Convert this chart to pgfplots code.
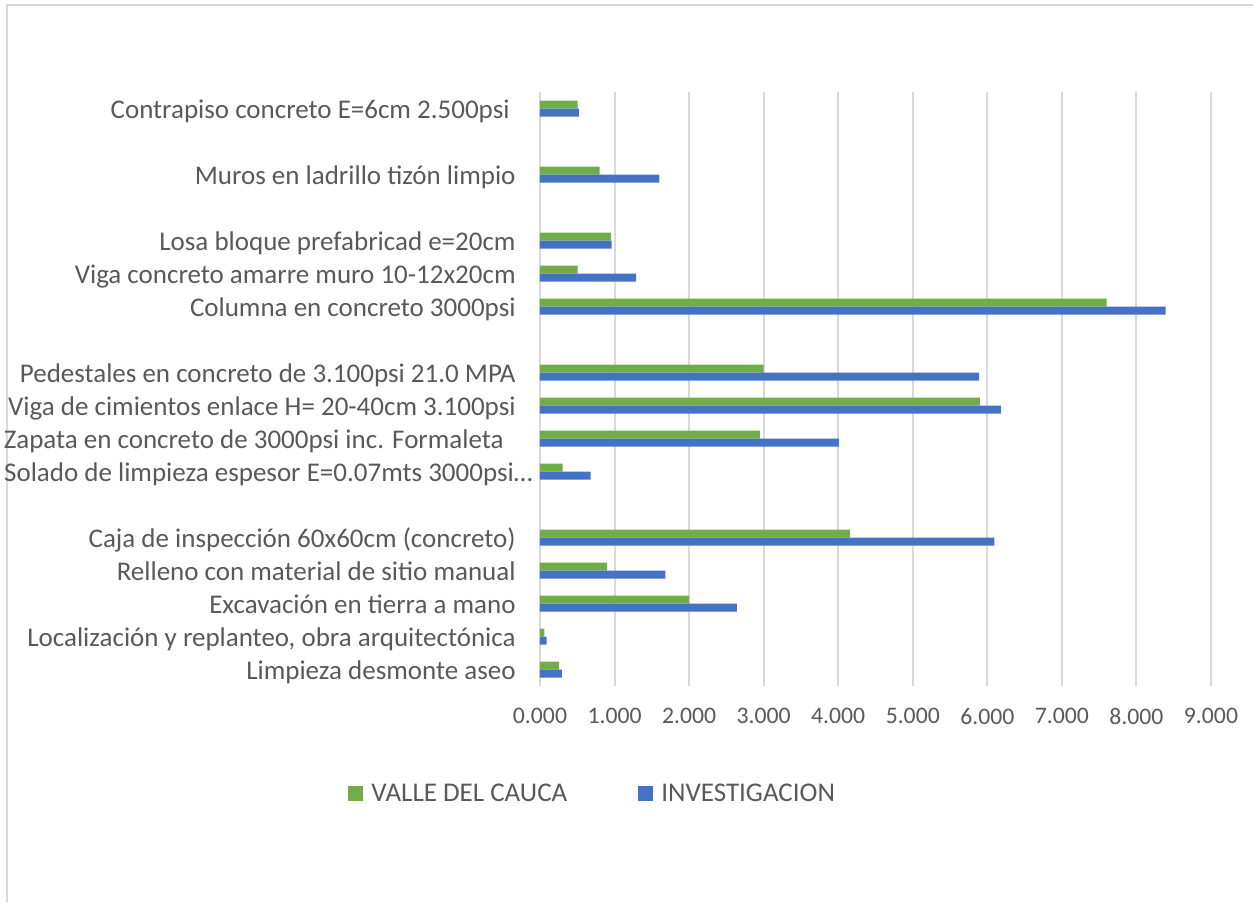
\documentclass[border=0pt]{standalone}
\usepackage{pgfplots}
\pgfplotsset{compat=1.18}
\usepackage{fontspec}
\setmainfont{Carlito}
\definecolor{cgreen}{HTML}{70AD47}
\definecolor{cblue}{HTML}{4472C4}
\definecolor{ctext}{HTML}{595959}
\definecolor{cgrid}{HTML}{D9D9D9}
\begin{document}
\begin{tikzpicture}
\path[use as bounding box] (0,0) rectangle (626.5pt,451pt);
\draw[cgrid, line width=1pt] (3.5pt,0) -- (3.5pt,448.5pt) -- (626.5pt,448.5pt);
\begin{axis}[
  at={(270pt,108pt)}, anchor=south west,
  scale only axis, width=335.5pt, height=297pt,
  xbar, bar width=4pt,
  xmin=0, xmax=9000, ymin=-0.5, ymax=17.5,
  axis line style={draw=none},
  major tick length=0pt,
  xmajorgrids, major grid style={color=cgrid, line width=1pt},
  xtick={0,1000,...,9000},
  xticklabels={0.000,1.000,2.000,3.000,4.000,5.000,6.000,7.000,8.000,9.000},
  xticklabel style={font=\fontsize{11.85}{14}\selectfont, text=ctext, anchor=north, inner sep=0pt, yshift=-11pt},
  ytick={0,1,2,3,4,6,7,8,9,11,12,13,15,17},
  yticklabels={
    Limpieza desmonte aseo,
    {Localización y replanteo, obra arquitectónica},
    Excavación en tierra a mano,
    Relleno con material de sitio manual,
    Caja de inspección 60x60cm (concreto),
    {Solado de limpieza espesor E=0.07mts 3000psi…\hspace*{-8.5pt}},
    {Zapata en concreto de 3000psi inc. Formaleta\hspace*{6pt}},
    Viga de cimientos enlace H= 20-40cm 3.100psi,
    Pedestales en concreto de 3.100psi 21.0 MPA,
    Columna en concreto 3000psi,
    Viga concreto amarre muro 10-12x20cm,
    Losa bloque prefabricad e=20cm,
    Muros en ladrillo tizón limpio,
    {Contrapiso concreto E=6cm 2.500psi\hspace*{3pt}}},
  yticklabel style={font=\fontsize{13.5}{16}\selectfont, text=ctext, anchor=base east, inner sep=0pt, xshift=-12pt, yshift=-4.8pt},
  legend columns=2,
  legend style={at={(-0.286,-0.1818)}, anchor=west, draw=none, fill=none, inner sep=0pt,
    nodes={inner sep=0pt},
    font=\fontsize{13.5}{16}\selectfont, text=ctext,
    /tikz/every odd column/.append style={column sep=4pt},
    /tikz/every even column/.append style={column sep=35.5pt}},
  legend image code/.code={\fill[#1] (0pt,-3.75pt) rectangle (7.5pt,3.75pt);},
]
\addplot[fill=cgreen, draw=none, bar shift=2pt] coordinates {
  (255,0) (60,1) (2000,2) (900,3) (4160,4) (305,6) (2950,7) (5900,8) (3000,9)
  (7600,11) (505,12) (950,13) (800,15) (505,17)};
\addlegendentry{VALLE DEL CAUCA}
\addplot[fill=cblue, draw=none, bar shift=-2pt] coordinates {
  (295,0) (90,1) (2640,2) (1680,3) (6095,4) (680,6) (4010,7) (6180,8) (5890,9)
  (8390,11) (1290,12) (960,13) (1600,15) (520,17)};
\addlegendentry{INVESTIGACION}
\end{axis}
\end{tikzpicture}
\end{document}
